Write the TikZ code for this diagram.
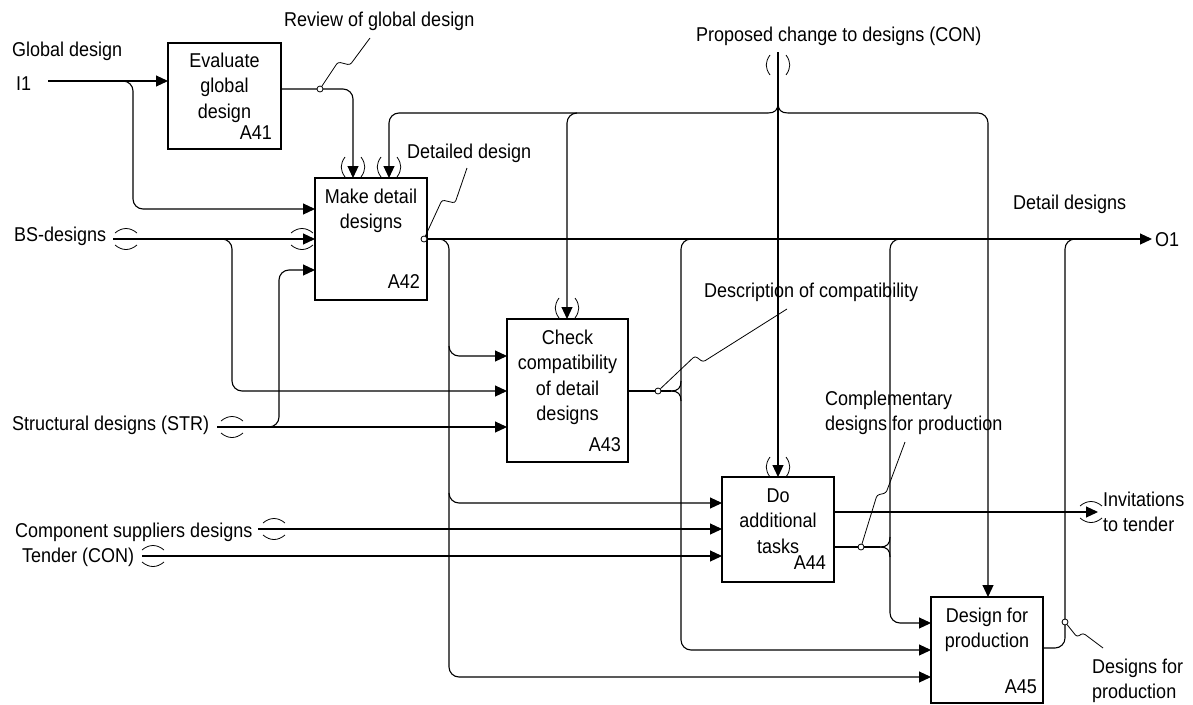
\documentclass[tikz,border=0pt]{standalone}
\usepackage{fontspec}
\setmainfont{Liberation Sans}[FakeStretch=0.9]
\usetikzlibrary{arrows.meta}
\newcommand{\mkvpar}[3]{% vertical "( )" around (#1,#2); #3 unused
  \draw[par] ({#1-8},{#2-10}) .. controls ({#1-13},{#2-3}) and ({#1-13},{#2+3}) .. ({#1-8},{#2+10});
  \draw[par] ({#1+8},{#2-10}) .. controls ({#1+13},{#2-3}) and ({#1+13},{#2+3}) .. ({#1+8},{#2+10});}
\newcommand{\mkhpar}[2]{%
  \draw[par] ({#1-11},{#2-6}) .. controls ({#1-4},{#2-12}) and ({#1+4},{#2-12}) .. ({#1+11},{#2-6});
  \draw[par] ({#1-11},{#2+6}) .. controls ({#1-4},{#2+12}) and ({#1+4},{#2+12}) .. ({#1+11},{#2+6});}
\tikzset{
  conn/.style={line width=1.1pt, draw=black},
  arr/.style={conn, -{Triangle[length=12pt,width=11pt]}},
  idbox/.style={draw=black, line width=1.7pt, rectangle, inner sep=0pt, outer sep=0pt},
  lbl/.style={font=\fontsize{20}{25}\selectfont, inner sep=0pt, anchor=base west, align=left},
  ttl/.style={font=\fontsize{20}{25.5}\selectfont, inner sep=0pt, align=center, anchor=base},
  aid/.style={font=\fontsize{20}{25}\selectfont, inner sep=0pt, anchor=base east},
  jdot/.style={circle, draw=black, fill=white, line width=0.8pt, inner sep=0pt, minimum size=6pt},
  squig/.style={line width=0.8pt, rounded corners=2.5pt},
  par/.style={line width=0.8pt},
}
\begin{document}
\begin{tikzpicture}[x=1pt,y=-1pt]
\useasboundingbox (0,0) rectangle (1193,704);

% boxes
\node[idbox, minimum width=113pt, minimum height=106pt] (A41) at (224.5,96) {};
\node[idbox, minimum width=112pt, minimum height=122pt] (A42) at (371,239) {};
\node[idbox, minimum width=121pt, minimum height=143pt] (A43) at (567.5,390.5) {};
\node[idbox, minimum width=112pt, minimum height=105pt] (A44) at (778,529.5) {};
\node[idbox, minimum width=112pt, minimum height=106pt] (A45) at (987,650) {};

% box titles (base anchor = baseline of last line)
\node[ttl] (t41) at (224.5,118) {Evaluate\\global\\design};
\node[ttl] (t42) at (371,228.5) {Make detail\\designs};
\node[ttl] (t43) at (567.5,420.5) {Check\\compatibility\\of detail\\designs};
\node[ttl] (t44) at (778,553) {Do\\additional\\tasks};
\node[ttl] (t45) at (987,647.5) {Design for\\production};
\node[aid] (n41) at (272,139) {A41};
\node[aid] (n42) at (420,288) {A42};
\node[aid] (n43) at (621,451) {A43};
\node[aid] (n44) at (826,569) {A44};
\node[aid] (n45) at (1037,693) {A45};

% labels
\node[lbl] (lGlobal) at (12,56) {Global design};
\node[lbl] (lI1) at (16,90) {I1};
\node[lbl] (lReview) at (284,26) {Review of global design};
\node[lbl] (lDetailed) at (407,158) {Detailed design};
\node[lbl] (lProp) at (696,41) {Proposed change to designs (CON)};
\node[lbl] (lDetail) at (1013,209) {Detail designs};
\node[lbl] (lO1) at (1155,246) {O1};
\node[lbl] (lBS) at (14,241) {BS-designs};
\node[lbl] (lSTR) at (12,430) {Structural designs (STR)};
\node[lbl] (lDesc) at (704,297) {Description of compatibility};
\node[lbl] (lCompl) at (825,430) {Complementary\\designs for production};
\node[lbl] (lComp) at (15,537) {Component suppliers designs};
\node[lbl] (lTender) at (22,562) {Tender (CON)};
\node[lbl] (lInv) at (1103,531) {Invitations\\to tender};
\node[lbl] (lDfp) at (1092,698) {Designs for\\production};

% coordinates
\coordinate (I1s) at (48,81);
\coordinate (BSs) at (113,239);
\coordinate (STRs) at (217,427);
\coordinate (CMPs) at (258,529);
\coordinate (TNDs) at (142,556);
\coordinate (PCs) at (778,52);
\coordinate (O1tip) at (1152,239);
\coordinate (INVtip) at (1098,512);

% I1
\draw[arr] (I1s) -- (A41.west |- 0,81);
\draw[arr, rounded corners=10pt] (123,81) -- (133,81) -- (133,209) -- (A42.west |- 0,209);
% A41 output
\draw[arr, rounded corners=10pt] (A41.east |- 0,89) -- (353,89) -- (A42.north -| 353,0);
% BS-designs
\draw[arr] (BSs) -- (A42.west);
\draw[arr, rounded corners=10pt] (222,239) -- (232,239) -- (232,391) -- (A43.west |- 0,391);
% STR
\draw[arr] (STRs) -- (A43.west |- 0,427);
\draw[arr, rounded corners=10pt] (269,427) -- (279,427) -- (279,270) -- (A42.west |- 0,270);
% Component suppliers, Tender
\draw[arr] (CMPs) -- (A44.west |- 0,529);
\draw[arr] (TNDs) -- (A44.west |- 0,556);
% Proposed change
\draw[arr] (PCs) -- (A44.north);
\draw[conn] (778,103) .. controls (778,110) and (775,113) .. (768,113);
\draw[arr, rounded corners=10pt] (768,113) -- (389,113) -- (A42.north -| 389,0);
\draw[arr, rounded corners=10pt] (577,113) -- (567,113) -- (A43.north -| 567,0);
\draw[conn] (778,103) .. controls (778,110) and (781,113) .. (788,113);
\draw[arr, rounded corners=10pt] (788,113) -- (988,113) -- (A45.north -| 988,0);
% A42 output
\draw[arr] (A42.east) -- (O1tip);
\draw[arr, rounded corners=10pt] (439,239) -- (449,239) -- (449,677) -- (A45.west |- 0,677);
\draw[arr, rounded corners=10pt] (449,346) -- (449,356) -- (A43.west |- 0,356);
\draw[arr, rounded corners=10pt] (449,493) -- (449,503) -- (A44.west |- 0,503);
% A43 output
\draw[conn] (A43.east |- 0,391) -- (671,391);
\draw[conn] (671,391) .. controls (678,391) and (681,388) .. (681,381);
\draw[conn] (671,391) .. controls (678,391) and (681,394) .. (681,401);
\draw[arr, rounded corners=10pt] (691,239) -- (681,239) -- (681,650) -- (A45.west |- 0,650);
% A44 outputs
\draw[arr] (A44.east |- 0,512) -- (INVtip);
\draw[conn] (A44.east |- 0,547) -- (880,547);
\draw[conn] (880,547) .. controls (887,547) and (890,544) .. (890,537);
\draw[conn] (880,547) .. controls (887,547) and (890,550) .. (890,557);
\draw[arr, rounded corners=10pt] (900,239) -- (890,239) -- (890,623) -- (A45.west |- 0,623);
% A45 output
\draw[conn, rounded corners=10pt] (A45.east |- 0,648) -- (1065,648) -- (1065,239) -- (1075,239);

% squiggles and dots
\node[jdot] (d41) at (320,89) {};
\node[jdot] (d42) at (424,239) {};
\node[jdot] (d43) at (658,391) {};
\node[jdot] (d44) at (861,547) {};
\node[jdot] (d45) at (1065,622) {};
\draw[squig] (d41) -- (338,62) -- (350,65) -- (370,38);
\draw[squig] (d42) -- (442,200) -- (455,203) -- (467,168);
\draw[squig] (d43) -- (695,356) -- (703,362) -- (787,309);
\draw[squig] (d44) -- (877,495) -- (886,493) -- (905,442);
\draw[squig] (d45) -- (1077,637) -- (1083,633) -- (1103,648);

% tunnel parentheses
\mkvpar{778}{65}{}
\mkvpar{353}{167}{}
\mkvpar{389}{167}{}
\mkvpar{567}{308}{}
\mkvpar{778}{467}{}
\mkhpar{126}{239}
\mkhpar{302}{239}
\mkhpar{232}{427}
\mkhpar{274}{529}
\mkhpar{153}{556}
\mkhpar{1091}{512}
\end{tikzpicture}
\end{document}
